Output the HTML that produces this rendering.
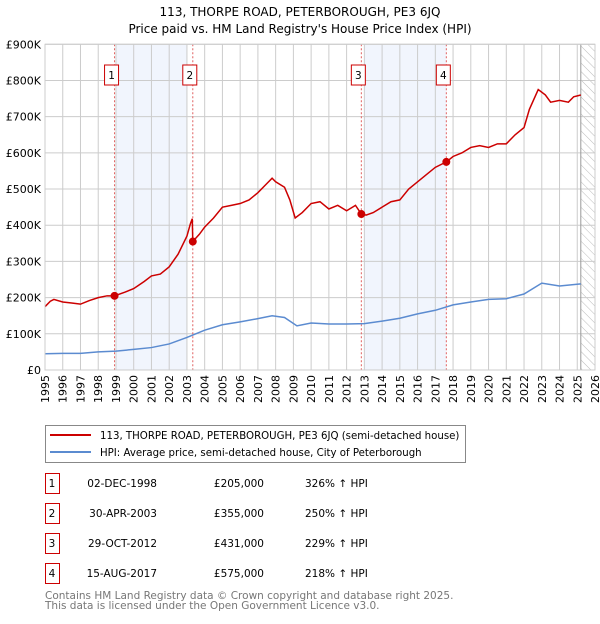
<!DOCTYPE html>
<html><head><meta charset="utf-8">
<style>
body{margin:0;background:#fff;font-family:"DejaVu Sans","Liberation Sans",sans-serif;}
svg text{font-family:"DejaVu Sans","Liberation Sans",sans-serif;}
</style></head>
<body>
<svg width="600" height="620" viewBox="0 0 600 620">
<defs>
<pattern id="hatch" width="6" height="6" patternUnits="userSpaceOnUse" patternTransform="rotate(-45)">
<line x1="0" y1="0" x2="0" y2="6" stroke="#bbb" stroke-width="1"/>
</pattern>
</defs>
<text x="300" y="16" text-anchor="middle" font-size="12">113, THORPE ROAD, PETERBOROUGH, PE3 6JQ</text>
<text x="300" y="33" text-anchor="middle" font-size="12">Price paid vs. HM Land Registry's House Price Index (HPI)</text>
<g id="plot"></g>
<g>
<rect x="45.5" y="425.5" width="420" height="37" fill="#fff" stroke="#888"/>
<line x1="50" y1="435" x2="91" y2="435" stroke="#cc0000" stroke-width="2"/>
<text x="100" y="439" font-size="10.2">113, THORPE ROAD, PETERBOROUGH, PE3 6JQ (semi-detached house)</text>
<line x1="50" y1="452" x2="91" y2="452" stroke="#5b8bd0" stroke-width="2"/>
<text x="100" y="456" font-size="10.2">HPI: Average price, semi-detached house, City of Peterborough</text>
</g>
<g id="table" font-size="10.5"></g>
<text x="45" y="599" font-size="10.5" fill="#777">Contains HM Land Registry data © Crown copyright and database right 2025.</text>
<text x="45" y="609" font-size="10.5" fill="#777">This data is licensed under the Open Government Licence v3.0.</text>
</svg>
<script>
const redYears=[1995.0,1995.3,1995.5,1996,1996.5,1997,1997.5,1998,1998.5,1998.92,1999.5,2000,2000.3,2000.6,2001,2001.5,2002,2002.5,2003.0,2003.2,2003.3,2003.33,2003.7,2004,2004.5,2005,2005.5,2006,2006.5,2007,2007.5,2007.8,2008,2008.5,2008.8,2009.1,2009.5,2010,2010.5,2011,2011.5,2012,2012.5,2012.83,2013.1,2013.5,2014,2014.5,2015,2015.5,2016,2016.5,2017,2017.62,2018,2018.5,2019,2019.5,2020,2020.5,2021,2021.5,2022,2022.3,2022.8,2023.2,2023.5,2024,2024.5,2024.8,2025.2];
const redValues=[175,190,195,188,185,182,192,200,205,205,215,225,235,245,260,265,285,320,370,405,418,355,375,395,420,450,455,460,470,490,515,530,520,505,470,420,435,460,465,445,455,440,455,431,428,435,450,465,470,500,520,540,560,575,590,600,615,620,615,625,625,650,670,720,775,760,740,745,740,755,760];
const hpiYears=[1995,1996,1997,1998,1999,2000,2001,2002,2003,2003.5,2004,2005,2006,2007,2007.8,2008.5,2009.2,2010,2011,2012,2013,2014,2015,2016,2017,2018,2019,2020,2021,2022,2023,2024,2025.2];
const hpiValues=[45,46,46,50,52,57,62,72,90,100,110,125,133,142,150,145,122,130,127,127,128,135,143,155,165,180,188,195,197,210,240,232,238];
const saleLabels=["1","2","3","4"];
const saleYears=[1998.92,2003.33,2012.83,2017.62];
const saleValues=[205,355,431,575];
const saleDates=["02-DEC-1998","30-APR-2003","29-OCT-2012","15-AUG-2017"];
const salePrices=["£205,000","£355,000","£431,000","£575,000"];
const saleHpi=["326% ↑ HPI","250% ↑ HPI","229% ↑ HPI","218% ↑ HPI"];
const yTicks=[0,100,200,300,400,500,600,700,800,900];
const yTickLabels=["£0","£100K","£200K","£300K","£400K","£500K","£600K","£700K","£800K","£900K"];
const shadeRanges=[[1999.0,2003.0],[2013.0,2017.62]];

const NS="http://www.w3.org/2000/svg";
const X0=45,X1=595,Y0=370,Y1=44.3;
const x=y=>X0+(y-1995)/31*(X1-X0);
const yv=v=>Y0-v/900*(Y0-Y1);
function mk(tag,attrs,parent){const e=document.createElementNS(NS,tag);for(const k in attrs)e.setAttribute(k,attrs[k]);parent.appendChild(e);return e;}
const plot=document.getElementById('plot');
shadeRanges.forEach(r=>{const e=mk('rect',{x:x(r[0]),y:Y1,width:x(r[1])-x(r[0]),height:Y0-Y1,fill:'#eef3fc',opacity:0.8},plot);

});
const h=mk('rect',{x:x(2025.2),y:Y1,width:X1-x(2025.2),height:Y0-Y1,fill:'url(#hatch)'},plot);


for(let yr=1995;yr<=2026;yr++){const e=mk('line',{x1:x(yr),x2:x(yr),y1:Y1,y2:Y0,stroke:'#ccc','stroke-width':1},plot);


const t=mk('text',{x:0,y:0,'font-size':11,'text-anchor':'end',transform:`translate(${x(yr)+4},${Y0+5}) rotate(-90)`},plot);t.textContent=yr;

}
yTicks.forEach((v,i)=>{const e=mk('line',{x1:X0,x2:X1,y1:yv(v),y2:yv(v),stroke:'#ccc','stroke-width':1},plot);


const t=mk('text',{x:X0-4,y:yv(v)+4,'font-size':11,'text-anchor':'end'},plot);t.textContent=yTickLabels[i];

});
const vl=mk('line',{x1:x(2025.2),x2:x(2025.2),y1:Y1,y2:Y0,stroke:'#999','stroke-width':1},plot);


saleYears.forEach((s,i)=>{const e=mk('line',{x1:x(s),x2:x(s),y1:Y1,y2:Y0,stroke:'#e06060','stroke-width':1,'stroke-dasharray':'2,2'},plot);


const b=mk('rect',{x:x(s)-10,y:65,width:14,height:20,fill:'#fff',stroke:'#cc0000'},plot);


const t=mk('text',{x:x(s)-3,y:79,'font-size':10.5,'text-anchor':'middle'},plot);t.textContent=saleLabels[i];

});
const hp=mk('polyline',{points:hpiYears.map((a,i)=>x(a)+','+yv(hpiValues[i])).join(' '),fill:'none',stroke:'#5b8bd0','stroke-width':1.5},plot);


const rp=mk('polyline',{points:redYears.map((a,i)=>x(a)+','+yv(redValues[i])).join(' '),fill:'none',stroke:'#cc0000','stroke-width':1.5},plot);


saleYears.forEach((s,i)=>{const c=mk('circle',{cx:x(s),cy:yv(saleValues[i]),r:4,fill:'#cc0000'},plot);

});
const ax=mk('rect',{x:X0,y:Y1,width:X1-X0,height:Y0-Y1,fill:'none',stroke:'#ccc'},plot);


const tb=document.getElementById('table');
saleLabels.forEach((l,i)=>{const cy=483+i*30;
const b=mk('rect',{x:45.5,y:cy-9.5,width:14,height:20,fill:'#fff',stroke:'#cc0000'},tb);


const vals=[[l,52,'middle'],[saleDates[i],157,'end'],[salePrices[i],264,'end'],[saleHpi[i],305,'start']];
vals.forEach(v=>{const t=mk('text',{x:v[1],y:cy+4,'text-anchor':v[2]},tb);t.textContent=v[0];

});});
</script>
</body></html>
